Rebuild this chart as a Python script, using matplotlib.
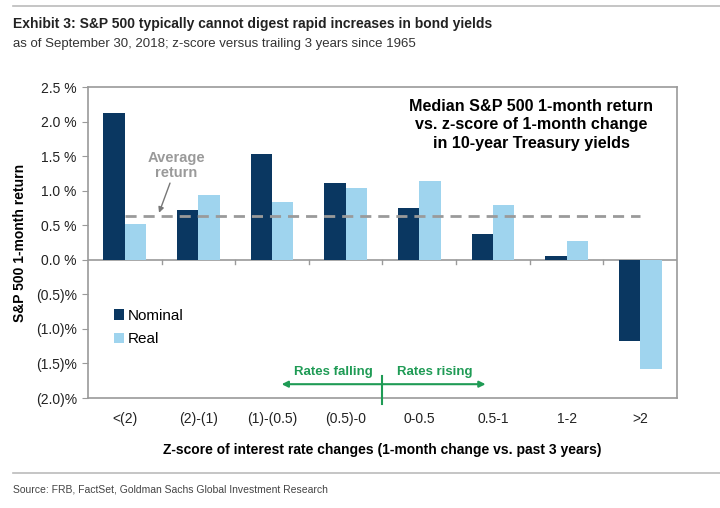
import matplotlib
matplotlib.use("Agg")
import matplotlib.pyplot as plt
from matplotlib import font_manager
import numpy as np

categories = ["<(2)", "(2)-(1)", "(1)-(0.5)", "(0.5)-0", "0-0.5", "0.5-1", "1-2", ">2"]
nominal = [2.13, 0.72, 1.53, 1.11, 0.75, 0.38, 0.05, -1.17]
real = [0.52, 0.94, 0.84, 1.04, 1.14, 0.80, 0.27, -1.58]
average_return = 0.64
yticks = [2.5, 2.0, 1.5, 1.0, 0.5, 0.0, -0.5, -1.0, -1.5, -2.0]
ytick_labels = ["2.5 %", "2.0 %", "1.5 %", "1.0 %", "0.5 %", "0.0 %", "(0.5)%", "(1.0)%", "(1.5)%", "(2.0)%"]

plt.rcParams['font.family'] = ['Liberation Sans', 'DejaVu Sans']

installed = {f.name for f in font_manager.fontManager.ttflist}
narrow = 'Liberation Sans Narrow' in installed
HEAD_FAMILY = ['Liberation Sans Narrow', 'Liberation Sans'] if narrow else ['Liberation Sans']

NAVY = "#0a3761"
LIGHT = "#9fd4ee"
GRAY = "#9a9a9a"
GREEN = "#1f9b55"

fig = plt.figure(figsize=(7.2, 5.08), dpi=100)
ax = fig.add_axes([0.1222, 0.2165, 0.8181, 0.6122])

x = np.arange(len(categories))
w = 0.29
ax.bar(x - w / 2, nominal, width=w, color=NAVY, label="Nominal", zorder=2)
ax.bar(x + w / 2, real, width=w, color=LIGHT, label="Real", zorder=2)

ax.plot([0, 7], [average_return, average_return], ls=(0, (4, 2.5)), color=GRAY, lw=2, zorder=3)

ax.set_xlim(-0.5, 7.5)
ax.set_ylim(-2.0, 2.5)
ax.set_yticks(yticks)
ax.set_yticklabels(ytick_labels, fontsize=10, color="#222222")
ax.tick_params(axis='y', direction='out', length=4, color=GRAY, pad=4)

ax.axhline(0, color=GRAY, lw=1.2, zorder=1)
for b in np.arange(0.5, 7.5, 1.0):
    ax.plot([b, b], [0, -0.06], color=GRAY, lw=1, zorder=1)

ax.set_xticks(x)
ax.set_xticklabels(categories, fontsize=10, color="#222222")
ax.tick_params(axis='x', length=0, pad=10)

for s in ax.spines.values():
    s.set_color(GRAY)
    s.set_linewidth(1.2)

ax.set_ylabel("S&P 500 1-month return", fontsize=10, fontweight='bold', labelpad=6)
ax.set_xlabel("Z-score of interest rate changes (1-month change vs. past 3 years)",
              fontsize=10, fontweight='bold', labelpad=12)

ax.legend(loc='upper left', bbox_to_anchor=(0.02, 0.33), frameon=False, fontsize=11,
          handlelength=0.7, handleheight=0.7, handletextpad=0.2, labelspacing=0.6)

ax.text(5.52, 2.33, "Median S&P 500 1-month return\nvs. z-score of 1-month change\nin 10-year Treasury yields",
        ha='center', va='top', fontsize=11.6, fontweight='bold', linespacing=1.3)

ax.text(0.7, 1.37, "Average\nreturn", ha='center', va='center', fontsize=10.5, fontweight='bold',
        color=GRAY, linespacing=1.1)
ax.annotate("", xy=(0.465, 0.68), xytext=(0.614, 1.11),
            arrowprops=dict(arrowstyle='-|>', color='#777777', lw=1, mutation_scale=8, shrinkA=0, shrinkB=0))

ax.plot([3.5, 3.5], [-1.68, -2.09], color=GREEN, lw=1.5, clip_on=False, zorder=4)
ax.annotate("", xy=(2.13, -1.80), xytext=(3.5, -1.80),
            arrowprops=dict(arrowstyle='-|>', color=GREEN, lw=1.5, mutation_scale=9, shrinkA=0, shrinkB=0))
ax.annotate("", xy=(4.9, -1.80), xytext=(3.5, -1.80),
            arrowprops=dict(arrowstyle='-|>', color=GREEN, lw=1.5, mutation_scale=9, shrinkA=0, shrinkB=0))
ax.text(2.83, -1.63, "Rates falling", ha='center', va='center', fontsize=9.5, fontweight='bold', color=GREEN)
ax.text(4.21, -1.63, "Rates rising", ha='center', va='center', fontsize=9.5, fontweight='bold', color=GREEN)

title_size = 12 if narrow else 10
sub_size = 11 if narrow else 9.5
src_size = 9 if narrow else 7.5
fig.add_artist(plt.Line2D([0.018, 1.0], [0.988, 0.988], color="#bbbbbb", lw=1.2))
fig.text(0.018, 0.953, "Exhibit 3: S&P 500 typically cannot digest rapid increases in bond yields",
         fontsize=title_size, fontweight='bold', va='center', color="#222222", family=HEAD_FAMILY)
fig.text(0.018, 0.913, "as of September 30, 2018; z-score versus trailing 3 years since 1965",
         fontsize=sub_size, va='center', color="#333333", family=HEAD_FAMILY)
fig.add_artist(plt.Line2D([0.018, 1.0], [0.069, 0.069], color="#bbbbbb", lw=1.2))
fig.text(0.018, 0.037, "Source: FRB, FactSet, Goldman Sachs Global Investment Research",
         fontsize=src_size, va='center', color="#444444", family=HEAD_FAMILY)

fig.savefig("out.png", dpi=100)
